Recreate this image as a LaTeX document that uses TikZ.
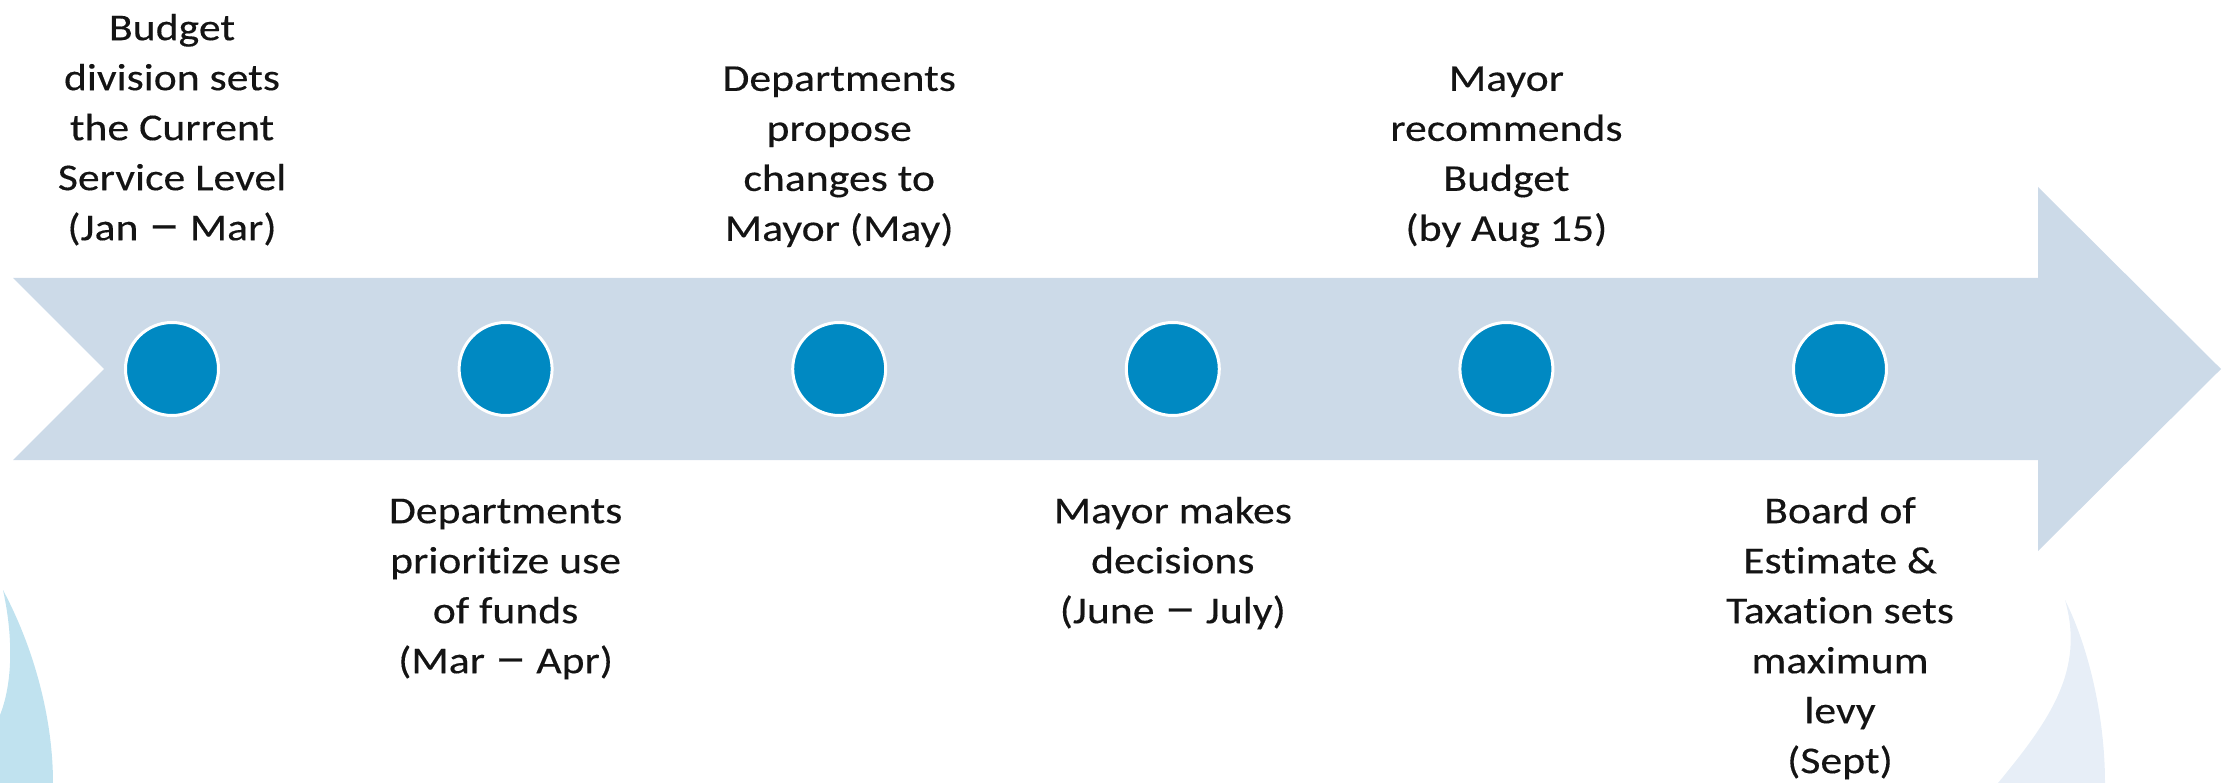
\documentclass[tikz,border=0pt]{standalone}
\usepackage{fontspec}
\setmainfont{Carlito}[FakeStretch=1.15,FakeBold=0.3,Ligatures=NoCommon]
\definecolor{arrowfill}{HTML}{CCDAE8}
\definecolor{dotfill}{HTML}{0089C2}
\definecolor{decoA}{HTML}{C0E2EF}
\definecolor{decoB}{HTML}{E7EEF7}
\definecolor{txt}{HTML}{141414}
\newcommand\wdash{\scalebox{1.45}[1.25]{–}}
\begin{document}
\begin{tikzpicture}[x=1pt,y=-1pt,
  dot/.style={circle,fill=dotfill,draw=white,line width=3pt,minimum size=93pt,inner sep=0pt},
  lbl/.style={align=center,inner sep=0pt,anchor=north,text=txt,font=\fontsize{38}{50}\selectfont}]
\useasboundingbox (0,0) rectangle (2236,783);
% decorative crescents
\fill[decoA] (3,590) .. controls (35,650) and (53,720) .. (53,783) -- (0,783) -- (0,715)
  .. controls (12,685) and (14,640) .. (3,590) -- cycle;
\fill[decoB] (2065,600) .. controls (2090,650) and (2105,720) .. (2105,783) -- (1998,783)
  .. controls (2050,720) and (2085,670) .. (2065,600) -- cycle;
% arrow
\fill[arrowfill] (13,278) -- (2038,278) -- (2038,187) -- (2221,369) -- (2038,551)
  -- (2038,460) -- (13,460) -- (104,369) -- cycle;
% dots
\node[dot] (d1) at (172,369) {};
\node[dot] (d2) at (505.6,369) {};
\node[dot] (d3) at (839.2,369) {};
\node[dot] (d4) at (1172.8,369) {};
\node[dot] (d5) at (1506.4,369) {};
\node[dot] (d6) at (1840,369) {};
% labels
\node[lbl] (t1) at (172,5) {\strut Budget\\division sets\\the Current\\Service Level\\(Jan \wdash{} Mar)};
\node[lbl] (t3) at (839.2,55.7) {\strut Departments\\propose\\changes to\\Mayor (May)};
\node[lbl] (t5) at (1506.4,55.7) {\strut Mayor\\recommends\\Budget\\(by Aug 15)};
\node[lbl] (t2) at (505.6,488) {\strut Departments\\prioritize use\\of funds\\(Mar \wdash{} Apr)};
\node[lbl] (t4) at (1172.8,488) {\strut Mayor makes\\decisions\\(June \wdash{} July)};
\node[lbl] (t6) at (1840,488) {\strut Board of\\Estimate \&\\Taxation sets\\maximum\\levy\\(Sept)};
\end{tikzpicture}
\end{document}
